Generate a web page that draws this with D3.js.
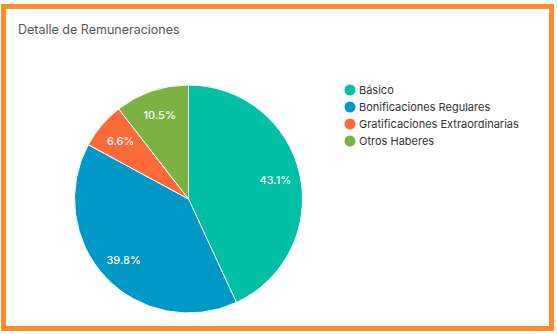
<!DOCTYPE html>
<html><head><meta charset="utf-8">
<script src="https://cdn.jsdelivr.net/npm/d3@7"></script>
<style>body{margin:0;background:#fff;}svg{display:block;font-family:Inter,"Noto Sans",sans-serif;}</style>
</head><body><svg id="c" width="557" height="334"></svg>
<script>
const categories = ["Básico","Bonificaciones Regulares","Gratificaciones Extraordinarias","Otros Haberes"];
const values = [43.1, 39.8, 6.6, 10.5];
const colors = ["#00BFA3","#0098C7","#FF6A3B","#7DB243"];

const svg = d3.select("#c");
svg.append("rect").attr("x",3.5).attr("y",6.5).attr("width",548).attr("height",322)
  .attr("fill","#fff").attr("stroke","#FF8A2B").attr("stroke-width",5);
svg.append("text").attr("x",18).attr("y",34).attr("font-size",12.5).attr("fill","#555")
  .text("Detalle de Remuneraciones");

const cx=188.5, cy=199, R=114;
const data = categories.map((c,i)=>({c, v:values[i], col:colors[i]}));
const pie = d3.pie().value(d=>d.v).sort(null);
const arc = d3.arc().innerRadius(0).outerRadius(R);
const labelArc = d3.arc().innerRadius(R*0.78).outerRadius(R*0.78);
const g = svg.append("g").attr("transform",`translate(${cx},${cy})`);
const arcs = pie(data);
g.selectAll("path").data(arcs).join("path").attr("d",arc)
  .attr("fill",d=>d.data.col).attr("stroke","#fff").attr("stroke-width",1);
g.selectAll("text").data(arcs).join("text")
  .attr("transform",d=>`translate(${labelArc.centroid(d)})`)
  .attr("text-anchor","middle").attr("dy","0.35em")
  .attr("font-size",11).attr("font-weight",500).attr("fill","#fff")
  .text(d=>d3.format(".1f")(d.data.v)+"%");

const leg = svg.append("g");
const rows = leg.selectAll("g").data(data).join("g")
  .attr("transform",(d,i)=>`translate(350,${90+i*17})`);
rows.append("circle").attr("r",5.5).attr("fill",d=>d.col);
rows.append("text").attr("x",9).attr("dy","0.35em").attr("font-size",11).attr("fill","#333")
  .text(d=>d.c);
</script></body></html>
